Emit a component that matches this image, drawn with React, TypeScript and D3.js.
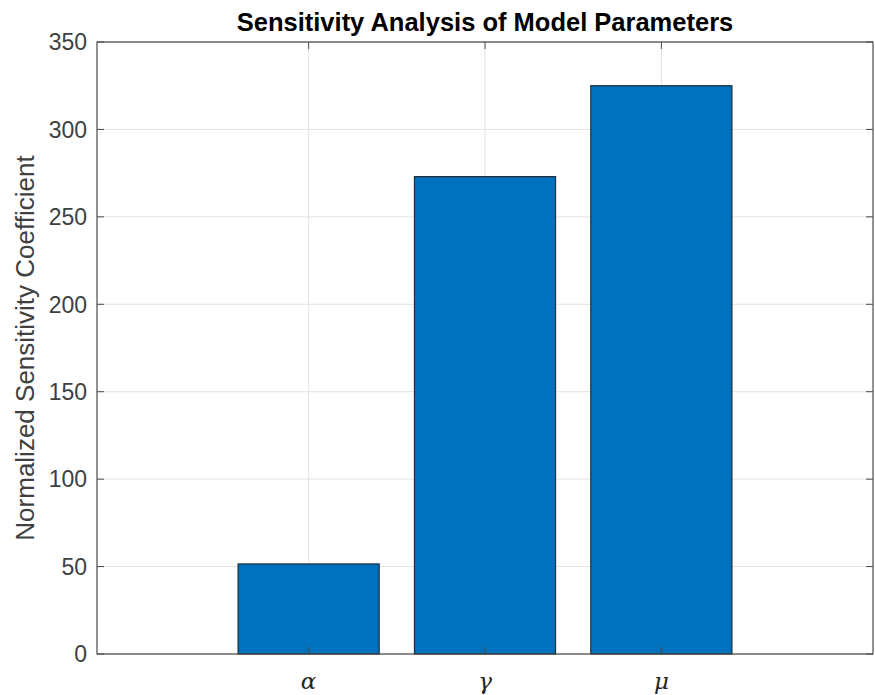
import React from 'react';
import * as d3 from 'd3';

const params = ['α', 'γ', 'μ'];
const sensitivity = [51.5, 273, 325];
const yTicks = [0, 50, 100, 150, 200, 250, 300, 350];

const width = 875,
      height = 695;
const margin = { top: 42, right: 2, bottom: 41, left: 97 };

export default function App() {
  const x = d3.scaleLinear()
    .domain([-0.2, 4.2])
    .range([margin.left, width - margin.right]);

  const y = d3.scaleLinear()
    .domain([0, 350])
    .range([height - margin.bottom, margin.top]);

  const barW = x(0.8) - x(0);
  const axisColor = '#4a4a4a';
  const left = x.range()[0], right = x.range()[1];
  const top = y.range()[1], bottom = y.range()[0];

  return (
    <svg width={width} height={height} style={{ position: 'absolute', left: 0, top: 0, background: '#fff' }}>
      {/* grid */}
      {yTicks.map(t => (
        <line key={'gy' + t} x1={left} x2={right} y1={y(t)} y2={y(t)} stroke="#e3e3e3" strokeWidth={1} />
      ))}
      {params.map((p, i) => (
        <line key={'gx' + p} x1={x(i + 1)} x2={x(i + 1)} y1={top} y2={bottom} stroke="#e3e3e3" strokeWidth={1} />
      ))}

      {/* bars */}
      {sensitivity.map((v, i) => (
        <rect key={params[i]}
          x={x(i + 1) - barW / 2}
          y={y(v)}
          width={barW}
          height={y(0) - y(v)}
          fill="#0072bd"
          stroke="#1f2a36"
          strokeWidth={1.2} />
      ))}

      {/* ticks inside */}
      {yTicks.map(t => (
        <g key={'ty' + t}>
          <line x1={left} x2={left + 7} y1={y(t)} y2={y(t)} stroke={axisColor} />
          <line x1={right - 7} x2={right} y1={y(t)} y2={y(t)} stroke={axisColor} />
          <text x={left - 10} y={y(t)} dy="0.36em" textAnchor="end"
            fontFamily="'Liberation Sans', Arial, sans-serif" fontSize={23} fill="#404040">{t}</text>
        </g>
      ))}
      {params.map((p, i) => (
        <g key={'tx' + p}>
          <line x1={x(i + 1)} x2={x(i + 1)} y1={bottom} y2={bottom - 7} stroke={axisColor} />
          <line x1={x(i + 1)} x2={x(i + 1)} y1={top} y2={top + 7} stroke={axisColor} />
          <text x={x(i + 1)} y={bottom + 35} textAnchor="middle"
            fontFamily="'DejaVu Serif', 'Liberation Serif', serif" fontStyle="italic" fontSize={23} fill="#262626">{p}</text>
        </g>
      ))}

      {/* box */}
      <rect x={left} y={top} width={right - left} height={bottom - top} fill="none" stroke={axisColor} strokeWidth={1.2} />

      {/* title and label */}
      <text x={(left + right) / 2} y={31} textAnchor="middle"
        fontFamily="'Liberation Sans', Arial, sans-serif" fontWeight="bold" fontSize={25.5} fill="#000">
        Sensitivity Analysis of Model Parameters
      </text>
      <text transform={`translate(34, ${(top + bottom) / 2}) rotate(-90)`} textAnchor="middle"
        fontFamily="'Liberation Sans', Arial, sans-serif" fontSize={26} fill="#404040">
        Normalized Sensitivity Coefficient
      </text>
    </svg>
  );
}
